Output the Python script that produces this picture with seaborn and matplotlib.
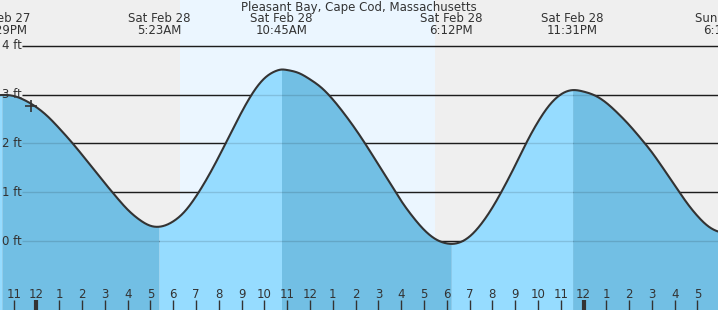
import numpy as np
import matplotlib
matplotlib.use("Agg")
import matplotlib.pyplot as plt
import seaborn as sns
from matplotlib.transforms import blended_transform_factory

# ---------------- data ----------------
title = "Pleasant Bay, Cape Cod, Massachusetts"

# hours since midnight, Sat Feb 28 (half-hour readings of the tide height, ft)
hours = [-2.0, -1.5, -1.0, -0.5, 0.0, 0.5, 1.0, 1.5, 2.0, 2.5, 3.0, 3.5, 4.0, 4.5,
         5.0, 5.5, 6.0, 6.5, 7.0, 7.5, 8.0, 8.5, 9.0, 9.5, 10.0, 10.5, 11.0, 11.5,
         12.0, 12.5, 13.0, 13.5, 14.0, 14.5, 15.0, 15.5, 16.0, 16.5, 17.0, 17.5,
         18.0, 18.5, 19.0, 19.5, 20.0, 20.5, 21.0, 21.5, 22.0, 22.5, 23.0, 23.5,
         24.0, 24.5, 25.0, 25.5, 26.0, 26.5, 27.0, 27.5, 28.0, 28.5, 29.0, 29.5, 30.0]
heights = [2.97, 2.99, 2.97, 2.88, 2.74, 2.55, 2.31, 2.05, 1.77, 1.48, 1.19, 0.91, 0.65, 0.45,
           0.32, 0.31, 0.41, 0.61, 0.92, 1.30, 1.73, 2.19, 2.64, 3.04, 3.33, 3.48, 3.50, 3.44,
           3.31, 3.14, 2.90, 2.61, 2.29, 1.94, 1.57, 1.20, 0.83, 0.51, 0.24, 0.05,
           -0.04, -0.03, 0.10, 0.35, 0.69, 1.10, 1.55, 2.02, 2.44, 2.78, 3.00, 3.09,
           3.06, 2.98, 2.83, 2.62, 2.38, 2.11, 1.82, 1.49, 1.15, 0.81, 0.52, 0.30, 0.19]

extreme_hours = [-1.52, 5.38, 10.75, 18.20, 23.52, 30.22]
extreme_heights = [2.99, 0.30, 3.51, -0.05, 3.09, 0.17]
extreme_days = ["Fri Feb 27", "Sat Feb 28", "Sat Feb 28", "Sat Feb 28", "Sat Feb 28", "Sun Mar 1"]
extreme_times = ["10:29PM", "5:23AM", "10:45AM", "6:12PM", "11:31PM", "6:13AM"]

sunrise, sunset = 6.30, 17.49
now_hour, now_height = -0.25, 2.77

ft_levels = [0, 1, 2, 3, 4]
ft_labels = ["0 ft", "1 ft", "2 ft", "3 ft", "4 ft"]

hour_ticks = list(range(-1, 30))
hour_labels = ["11", "12", "1", "2", "3", "4", "5", "6", "7", "8", "9", "10", "11",
               "12", "1", "2", "3", "4", "5", "6", "7", "8", "9", "10", "11",
               "12", "1", "2", "3", "4", "5"]
midnights = [0, 24]

# ---------------- style ----------------
TXT = "#333333"
GRAY_BG = "#efefef"
DAY_BG = "#ebf6ff"
FALL = "#72bfe4"
RISE = "#96dcff"
FS = 8.5


def smooth_curve(x, y, xs):
    """Natural cubic spline through the readings (only for smooth drawing)."""
    x = np.asarray(x, float)
    y = np.asarray(y, float)
    n = len(x)
    h = np.diff(x)
    A = np.zeros((n, n))
    r = np.zeros(n)
    A[0, 0] = A[-1, -1] = 1.0
    for i in range(1, n - 1):
        A[i, i - 1] = h[i - 1]
        A[i, i] = 2 * (h[i - 1] + h[i])
        A[i, i + 1] = h[i]
        r[i] = 3 * ((y[i + 1] - y[i]) / h[i] - (y[i] - y[i - 1]) / h[i - 1])
    c = np.linalg.solve(A, r)
    b = (y[1:] - y[:-1]) / h - h * (2 * c[:-1] + c[1:]) / 3
    d = (c[1:] - c[:-1]) / (3 * h)
    idx = np.clip(np.searchsorted(x, xs) - 1, 0, n - 2)
    t = xs - x[idx]
    return y[idx] + b[idx] * t + c[idx] * t**2 + d[idx] * t**3


sns.set_style("white")
plt.rcParams["font.family"] = ["DejaVu Sans"]

fig = plt.figure(figsize=(7.18, 3.10), dpi=100)
ax = fig.add_axes([0, 0, 1, 1])
ax.set_xlim(-1.60, 29.90)
ax.set_ylim(-1.40, 4.93)
ax.set_facecolor(GRAY_BG)
for s in ax.spines.values():
    s.set_visible(False)
ax.set_xticks([])
ax.set_yticks([])

# daylight
ax.axvspan(sunrise, sunset, color=DAY_BG, zorder=0, lw=0)

# grid lines behind
ytrans = blended_transform_factory(ax.transAxes, ax.transData)
ax.hlines(ft_levels, 22 / 718, 1, transform=ytrans, color="#222222", lw=1.0, zorder=1)

# curve points: readings plus extremes (skip readings that sit on an extreme)
ex = np.array(extreme_hours)
keep = [i for i, hh in enumerate(hours) if np.min(np.abs(ex - hh)) > 0.15]
cx = np.array([hours[i] for i in keep] + extreme_hours)
cy = np.array([heights[i] for i in keep] + extreme_heights)
order = np.argsort(cx)
cx, cy = cx[order], cy[order]

dense_x = np.linspace(cx[0], cx[-1], 3000)
dense_y = smooth_curve(cx, cy, dense_x)

# fills: falling tide dark, rising tide light
bounds = [cx[0]] + extreme_hours[:-1] + [cx[-1]]
ylo = ax.get_ylim()[0]
for i in range(len(bounds) - 1):
    a, b = bounds[i], bounds[i + 1]
    xs = np.linspace(a, b, 500)
    ys = smooth_curve(cx, cy, xs)
    col = FALL if ys[0] > ys[-1] else RISE
    ax.fill_between(xs, ylo, ys, color=col, lw=0, zorder=2)

# grid lines over fill (subtle)
ax.hlines(ft_levels, 22 / 718, 1, transform=ytrans, color="black", alpha=0.13, lw=1.0, zorder=3)

# tide curve
sns.lineplot(x=dense_x, y=dense_y, ax=ax, color="#333333", lw=1.5, zorder=4,
             estimator=None, sort=True)
ax.plot([now_hour], [now_height], marker="+", ms=9, mew=1.2, color="#333333", zorder=5)

# y labels
for lvl, lab in zip(ft_levels, ft_labels):
    ax.text(2 / 718, lvl, lab, transform=ytrans, ha="left", va="center",
            fontsize=FS, color=TXT, zorder=6)

# bottom hour ticks
xtrans = blended_transform_factory(ax.transData, ax.transAxes)
for h, lab in zip(hour_ticks, hour_labels):
    lw = 3.0 if h in midnights else 1.0
    ax.plot([h, h], [0, 10 / 310], transform=xtrans, color="#333333", lw=lw,
            solid_capstyle="butt", zorder=6)
    ax.text(h, 16 / 310, lab, transform=xtrans, ha="center", va="center",
            fontsize=FS, color=TXT, zorder=6)

# top labels
ftrans = blended_transform_factory(ax.transData, fig.transFigure)
fig.text(0.5, 1 - 7 / 310, title, ha="center", va="center", fontsize=FS, color=TXT)
for h, d, t in zip(extreme_hours, extreme_days, extreme_times):
    ax.text(h, 1 - 19 / 310, d, transform=ftrans, ha="center", va="center",
            fontsize=FS, color=TXT, clip_on=False, zorder=7)
    ax.text(h, 1 - 31 / 310, t, transform=ftrans, ha="center", va="center",
            fontsize=FS, color=TXT, clip_on=False, zorder=7)

fig.savefig("out.png", dpi=100)
